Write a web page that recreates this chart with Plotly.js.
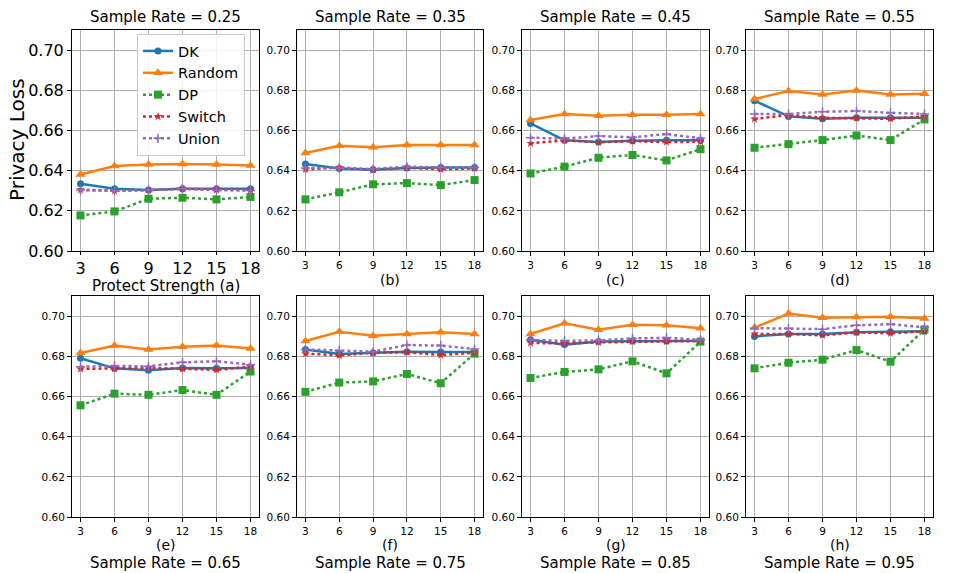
<!DOCTYPE html>
<html>
<head>
<meta charset="utf-8">
<script src="https://cdn.plot.ly/plotly-3.0.1.min.js"></script>
<style>html,body{margin:0;padding:0;background:#fff}#chart{width:953px;height:573px}</style>
</head>
<body>
<div id="chart"></div>
<script>
// Protect strength (x) values
const strengths = [3, 6, 9, 12, 15, 18];
const xTickLabels = ['3', '6', '9', '12', '15', '18'];
const yTickVals = [0.60, 0.62, 0.64, 0.66, 0.68, 0.70];
const sampleRates = ['0.25', '0.35', '0.45', '0.55', '0.65', '0.75', '0.85', '0.95'];
const panelLabels = ['(a)', '(b)', '(c)', '(d)', '(e)', '(f)', '(g)', '(h)'];
const methods = ['DK', 'Random', 'DP', 'Switch', 'Union'];

// One row per panel (a)..(h), values at strengths 3..18
const dk = [
  [0.6335, 0.6310, 0.6303, 0.6310, 0.6310, 0.6310],
  [0.6433, 0.6411, 0.6406, 0.6413, 0.6415, 0.6415],
  [0.6635, 0.6551, 0.6542, 0.6549, 0.6551, 0.6551],
  [0.6748, 0.6670, 0.6658, 0.6663, 0.6663, 0.6663],
  [0.6790, 0.6740, 0.6730, 0.6742, 0.6740, 0.6742],
  [0.6834, 0.6811, 0.6818, 0.6823, 0.6821, 0.6821],
  [0.6882, 0.6858, 0.6873, 0.6876, 0.6876, 0.6876],
  [0.6899, 0.6911, 0.6911, 0.6920, 0.6922, 0.6924]
];
const random = [
  [0.6381, 0.6423, 0.6430, 0.6433, 0.6431, 0.6425],
  [0.6488, 0.6524, 0.6517, 0.6527, 0.6527, 0.6527],
  [0.6652, 0.6682, 0.6673, 0.6678, 0.6678, 0.6682],
  [0.6756, 0.6796, 0.6779, 0.6799, 0.6779, 0.6783],
  [0.6816, 0.6854, 0.6834, 0.6848, 0.6853, 0.6839],
  [0.6876, 0.6922, 0.6902, 0.6911, 0.6920, 0.6911],
  [0.6911, 0.6964, 0.6932, 0.6957, 0.6954, 0.6940],
  [0.6942, 0.7013, 0.6992, 0.6995, 0.6997, 0.6988]
];
const dp = [
  [0.6177, 0.6197, 0.6260, 0.6265, 0.6257, 0.6269],
  [0.6257, 0.6292, 0.6332, 0.6338, 0.6328, 0.6353],
  [0.6386, 0.6420, 0.6464, 0.6478, 0.6451, 0.6507],
  [0.6514, 0.6532, 0.6552, 0.6575, 0.6552, 0.6655],
  [0.6556, 0.6614, 0.6608, 0.6632, 0.6608, 0.6724],
  [0.6623, 0.6669, 0.6675, 0.6712, 0.6666, 0.6813],
  [0.6692, 0.6722, 0.6735, 0.6775, 0.6715, 0.6873],
  [0.6740, 0.6768, 0.6783, 0.6831, 0.6773, 0.6934]
];
const switchLoss = [
  [0.6305, 0.6300, 0.6303, 0.6310, 0.6305, 0.6303],
  [0.6406, 0.6416, 0.6403, 0.6415, 0.6406, 0.6411],
  [0.6536, 0.6551, 0.6541, 0.6547, 0.6542, 0.6544],
  [0.6657, 0.6677, 0.6663, 0.6662, 0.6658, 0.6670],
  [0.6737, 0.6738, 0.6742, 0.6738, 0.6732, 0.6748],
  [0.6813, 0.6805, 0.6818, 0.6820, 0.6806, 0.6818],
  [0.6866, 0.6864, 0.6869, 0.6873, 0.6874, 0.6877],
  [0.6911, 0.6911, 0.6904, 0.6919, 0.6914, 0.6924]
];
const union = [
  [0.6303, 0.6300, 0.6303, 0.6310, 0.6303, 0.6301],
  [0.6413, 0.6413, 0.6408, 0.6420, 0.6416, 0.6415],
  [0.6564, 0.6559, 0.6572, 0.6566, 0.6582, 0.6561],
  [0.6682, 0.6682, 0.6693, 0.6697, 0.6688, 0.6682],
  [0.6748, 0.6752, 0.6750, 0.6770, 0.6775, 0.6758],
  [0.6834, 0.6828, 0.6823, 0.6856, 0.6853, 0.6836],
  [0.6881, 0.6877, 0.6879, 0.6889, 0.6892, 0.6882],
  [0.6940, 0.6939, 0.6935, 0.6954, 0.6960, 0.6944]
];

const seriesData = [dk, random, dp, switchLoss, union];
const styles = [
  {color: '#1f77b4', dash: 'solid', symbol: 'circle', size: 7},
  {color: '#ff7f0e', dash: 'solid', symbol: 'triangle-up', size: 9},
  {color: '#2ca02c', dash: '3px,3px', symbol: 'square', size: 8},
  {color: '#d62728', dash: '3px,3px', symbol: 'star', size: 6.5},
  {color: '#9467bd', dash: '3px,3px', symbol: 'cross-thin', size: 6.5}
];

const W = 953, H = 573;
const colPx = [[72, 259], [297, 483], [522, 709], [746, 933]];
const rowPx = [[30, 251], [296, 517]];
const FONT = 'DejaVu Sans, sans-serif';

const traces = [];
const layout = {
  width: W, height: H,
  margin: {l: 0, r: 0, t: 0, b: 0},
  paper_bgcolor: '#fff', plot_bgcolor: '#fff',
  font: {family: FONT, color: '#000'},
  showlegend: true,
  legend: {
    x: 137 / W, y: 1 - 34 / H, xanchor: 'left', yanchor: 'top',
    bgcolor: 'rgba(255,255,255,0.85)', bordercolor: '#cccccc', borderwidth: 1,
    font: {family: FONT, size: 14.5, color: '#000'},
    tracegroupgap: 0, itemwidth: 30
  },
  annotations: []
};

for (let p = 0; p < 8; p++) {
  const row = p < 4 ? 0 : 1;
  const col = p % 4;
  const suffix = p === 0 ? '' : String(p + 1);
  const big = p === 0;
  for (let m = 0; m < methods.length; m++) {
    const s = styles[m];
    const marker = {symbol: s.symbol, size: s.size, color: s.color};
    if (s.symbol === 'cross-thin') marker.line = {color: s.color, width: 1.5};
    traces.push({
      type: 'scatter', mode: 'lines+markers',
      x: strengths, y: seriesData[m][p],
      name: methods[m], legendgroup: methods[m], showlegend: p === 0,
      xaxis: 'x' + suffix, yaxis: 'y' + suffix,
      line: {color: s.color, width: 2.5, dash: s.dash},
      marker: marker
    });
  }
  const [x0, x1] = colPx[col];
  const [yt, yb] = rowPx[row];
  const tickSize = big ? 16 : 10.5;
  layout['xaxis' + suffix] = {
    domain: [x0 / W, x1 / W], anchor: 'y' + suffix,
    range: [2.25, 18.75], tickvals: strengths, ticktext: xTickLabels,
    showgrid: true, gridcolor: '#b0b0b0', gridwidth: 1,
    showline: true, linecolor: '#000', linewidth: 1, mirror: true,
    ticks: 'outside', ticklen: big ? 3 : 4, tickcolor: '#000',
    tickfont: {family: FONT, size: tickSize, color: '#000'},
    zeroline: false, fixedrange: true
  };
  layout['yaxis' + suffix] = {
    domain: [1 - yb / H, 1 - yt / H], anchor: 'x' + suffix,
    range: [0.60, 0.71], tickvals: yTickVals, tickformat: '.2f',
    showgrid: true, gridcolor: '#b0b0b0', gridwidth: 1,
    showline: true, linecolor: '#000', linewidth: 1, mirror: true,
    ticks: 'outside', ticklen: 4, tickcolor: '#000',
    tickfont: {family: FONT, size: tickSize, color: '#000'},
    zeroline: false, fixedrange: true
  };
  const cx = (x0 + x1) / 2 / W;
  if (row === 0) {
    layout.annotations.push({
      text: 'Sample Rate = ' + sampleRates[p], xref: 'paper', yref: 'paper',
      x: cx, y: 1 - 17 / H, xanchor: 'center', yanchor: 'middle', showarrow: false,
      font: {family: FONT, size: 15, color: '#000'}
    });
    layout.annotations.push({
      text: big ? 'Protect Strength ' + panelLabels[p] : panelLabels[p],
      xref: 'paper', yref: 'paper',
      x: cx, y: 1 - (big ? 286 : 280) / H, xanchor: 'center', yanchor: 'middle', showarrow: false,
      font: {family: FONT, size: big ? 15 : 14, color: '#000'}
    });
  } else {
    layout.annotations.push({
      text: panelLabels[p], xref: 'paper', yref: 'paper',
      x: cx, y: 1 - 545 / H, xanchor: 'center', yanchor: 'middle', showarrow: false,
      font: {family: FONT, size: 14, color: '#000'}
    });
    layout.annotations.push({
      text: 'Sample Rate = ' + sampleRates[p], xref: 'paper', yref: 'paper',
      x: cx, y: 1 - 563 / H, xanchor: 'center', yanchor: 'middle', showarrow: false,
      font: {family: FONT, size: 15, color: '#000'}
    });
  }
}

layout.annotations.push({
  text: 'Privacy Loss', xref: 'paper', yref: 'paper',
  x: 17 / W, y: 1 - 140 / H, xanchor: 'center', yanchor: 'middle', textangle: -90,
  showarrow: false, font: {family: FONT, size: 20, color: '#000'}
});

Plotly.newPlot('chart', traces, layout, {staticPlot: true, displayModeBar: false});
</script>
</body>
</html>
